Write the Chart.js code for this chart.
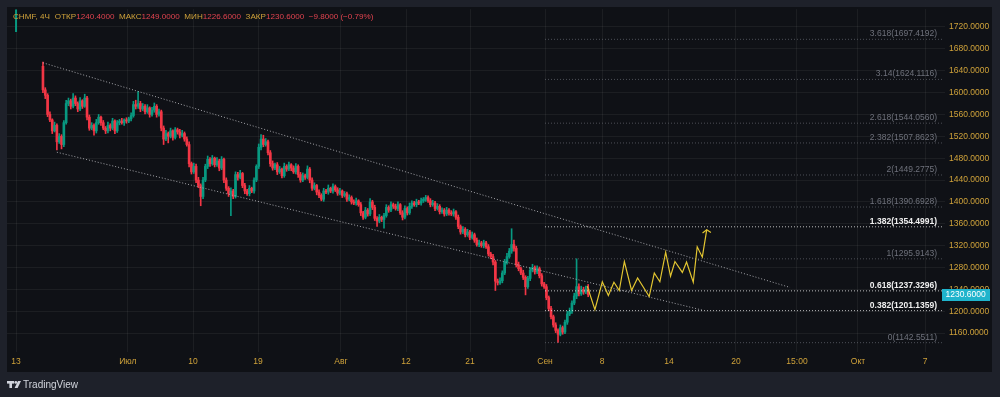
<!DOCTYPE html>
<html>
<head>
<meta charset="utf-8">
<script src="https://cdn.jsdelivr.net/npm/chart.js@4.4.1/dist/chart.umd.min.js"></script>
<style>
html, body { margin: 0; padding: 0; background: #1e212a; }
canvas { display: block; }
</style>
</head>
<body>
<canvas id="chart" width="1000" height="397"></canvas>
<script>
// CHMF 4h candles (bar index 0 = first candle)
const opens = [
  1648,1605,1595,1560,1550,1530,1540,1510,1520,1505,
  1545,1580,1585,1575,1590,1580,1570,1585,1575,1590,
  1555,1535,1540,1530,1545,1555,1545,1535,1530,1540,
  1535,1548,1530,1545,1548,1545,1550,1548,1552,1558,
  1578,1575,1580,1570,1575,1565,1572,1560,1568,1575,
  1560,1565,1535,1515,1525,1520,1530,1518,1532,1528,
  1522,1525,1515,1505,1470,1455,1465,1440,1430,1410,
  1440,1465,1478,1470,1480,1468,1475,1462,1478,1440,
  1425,1415,1420,1410,1450,1445,1452,1430,1420,1415,
  1425,1420,1440,1465,1500,1515,1505,1510,1490,1470,
  1462,1468,1455,1460,1448,1465,1460,1468,1462,1455,
  1465,1450,1440,1448,1445,1460,1440,1425,1430,1418,
  1412,1405,1420,1418,1425,1420,1428,1422,1416,1420,
  1412,1415,1405,1408,1400,1398,1402,1395,1380,1372,
  1385,1378,1400,1390,1370,1365,1372,1368,1375,1390,
  1385,1395,1392,1388,1395,1380,1372,1388,1380,1392,
  1398,1395,1400,1398,1402,1405,1408,1402,1395,1398,
  1388,1392,1382,1385,1378,1385,1380,1378,1382,1372,
  1355,1345,1350,1340,1345,1335,1340,1330,1322,1325,
  1320,1325,1318,1305,1300,1290,1255,1252,1256,1270,
  1290,1300,1310,1322,1315,1285,1278,1270,1262,1245,
  1260,1275,1280,1272,1278,1265,1250,1245,1225,1205,
  1190,1175,1165,1158,1170,1162,1180,1195,1200,1215,
  1228,1245,1232,1240,1235,1240.4
];
const highs = [
  1656,1609,1598,1565,1552,1546,1543,1525,1523,1549,
  1586,1590,1588,1598,1594,1583,1591,1587,1597,1593,
  1559,1545,1543,1551,1560,1557,1549,1538,1546,1543,
  1553,1550,1549,1551,1553,1552,1554,1555,1563,1584,
  1586,1602,1584,1580,1578,1578,1574,1573,1581,1578,
  1570,1568,1539,1531,1528,1535,1532,1536,1535,1533,
  1531,1528,1519,1510,1473,1471,1469,1445,1433,1445,
  1469,1484,1481,1485,1482,1481,1478,1483,1480,1444,
  1428,1426,1423,1455,1454,1458,1454,1434,1423,1430,
  1427,1444,1468,1506,1523,1522,1516,1513,1494,1475,
  1471,1472,1465,1462,1471,1468,1473,1470,1466,1470,
  1468,1454,1453,1451,1466,1463,1444,1435,1432,1422,
  1415,1425,1423,1431,1427,1433,1431,1426,1425,1422,
  1419,1418,1413,1411,1404,1407,1404,1399,1383,1390,
  1388,1406,1403,1394,1373,1377,1374,1379,1395,1393,
  1400,1398,1396,1400,1397,1384,1393,1391,1398,1402,
  1401,1405,1403,1407,1408,1412,1411,1406,1403,1401,
  1397,1395,1389,1388,1390,1388,1384,1387,1384,1376,
  1358,1355,1353,1350,1348,1345,1343,1334,1330,1328,
  1330,1328,1322,1308,1304,1293,1259,1261,1274,1295,
  1306,1315,1351,1330,1319,1290,1281,1275,1265,1264,
  1280,1286,1283,1283,1281,1269,1253,1249,1228,1209,
  1193,1179,1168,1175,1173,1184,1200,1206,1219,1233,
  1296,1250,1246,1244,1246,1249
];
const lows = [
  1600,1589,1556,1547,1525,1528,1495,1507,1497,1501,
  1542,1576,1570,1572,1576,1565,1567,1571,1573,1550,
  1531,1532,1522,1526,1542,1540,1532,1525,1526,1530,
  1532,1525,1527,1541,1542,1540,1544,1545,1548,1555,
  1570,1571,1565,1567,1561,1562,1555,1557,1564,1555,
  1557,1530,1505,1512,1508,1517,1513,1515,1524,1517,
  1519,1511,1502,1464,1451,1452,1435,1426,1393,1406,
  1437,1461,1465,1467,1464,1465,1457,1459,1435,1421,
  1410,1375,1406,1407,1440,1442,1426,1415,1412,1411,
  1417,1416,1437,1461,1495,1501,1502,1486,1465,1458,
  1459,1450,1452,1444,1445,1456,1457,1457,1452,1451,
  1445,1436,1437,1441,1442,1435,1421,1422,1413,1408,
  1402,1401,1415,1414,1417,1416,1419,1412,1413,1408,
  1409,1401,1402,1396,1395,1394,1392,1375,1368,1369,
  1374,1375,1386,1366,1355,1362,1364,1352,1372,1381,
  1382,1388,1385,1384,1377,1367,1369,1376,1377,1388,
  1392,1391,1395,1394,1399,1401,1399,1391,1392,1384,
  1385,1378,1379,1374,1375,1376,1375,1374,1368,1351,
  1341,1342,1336,1337,1331,1332,1326,1319,1318,1317,
  1316,1315,1301,1296,1285,1238,1248,1249,1252,1267,
  1286,1297,1306,1310,1281,1274,1267,1258,1230,1242,
  1256,1272,1268,1269,1261,1246,1242,1221,1201,1186,
  1171,1161,1143,1155,1158,1159,1176,1192,1196,1212,
  1223,1228,1229,1231,1232,1226.6
];
const closes = [
  1605,1595,1560,1550,1530,1540,1510,1520,1505,1545,
  1580,1585,1575,1590,1580,1570,1585,1575,1590,1555,
  1535,1540,1530,1545,1555,1545,1535,1530,1540,1535,
  1548,1530,1545,1548,1545,1550,1548,1552,1558,1578,
  1575,1580,1570,1575,1565,1572,1560,1568,1575,1560,
  1565,1535,1515,1525,1520,1530,1518,1532,1528,1522,
  1525,1515,1505,1470,1455,1465,1440,1430,1410,1440,
  1465,1478,1470,1480,1468,1475,1462,1478,1440,1425,
  1415,1420,1410,1450,1445,1452,1430,1420,1415,1425,
  1420,1440,1465,1500,1515,1505,1510,1490,1470,1462,
  1468,1455,1460,1448,1465,1460,1468,1462,1455,1465,
  1450,1440,1448,1445,1460,1440,1425,1430,1418,1412,
  1405,1420,1418,1425,1420,1428,1422,1416,1420,1412,
  1415,1405,1408,1400,1398,1402,1395,1380,1372,1385,
  1378,1400,1390,1370,1365,1372,1368,1375,1390,1385,
  1395,1392,1388,1395,1380,1372,1388,1380,1392,1398,
  1395,1400,1398,1402,1405,1408,1402,1395,1398,1388,
  1392,1382,1385,1378,1385,1380,1378,1382,1372,1355,
  1345,1350,1340,1345,1335,1340,1330,1322,1325,1320,
  1325,1318,1305,1300,1290,1255,1252,1256,1270,1290,
  1300,1310,1322,1315,1285,1278,1270,1262,1245,1260,
  1275,1280,1272,1278,1265,1250,1245,1225,1205,1190,
  1175,1165,1158,1170,1162,1180,1195,1200,1215,1228,
  1245,1232,1240,1235,1240.4,1230.6
];

// time axis ticks (bar index position) and labels
const xTickPos = [-11.6, 36.6, 64.7, 92.7, 128.4, 156.5, 184.1, 216.4, 241.0, 269.8, 298.7, 325.0, 351.3, 380.2];
const xTickLabels = ['13', 'Июл', '10', '19', 'Авг', '12', '21', 'Сен', '8', '14', '20', '15:00', 'Окт', '7'];
const yTicks = [1160, 1200, 1240, 1280, 1320, 1360, 1400, 1440, 1480, 1520, 1560, 1600, 1640, 1680, 1720];

// fibonacci extension levels
const fibRatios = ['0', '0.382', '0.618', '1', '1.382', '1.618', '2', '2.382', '2.618', '3.14', '3.618'];
const fibPrices = [1142.5511, 1201.1359, 1237.3296, 1295.9143, 1354.4991, 1390.6928, 1449.2775, 1507.8623, 1544.0560, 1624.1116, 1697.4192];
const fibBright = [false, true, true, false, true, false, false, false, false, false, false];
const fibFrom = 216.4, fibTo = 387.5;

// channel lines (bar index, price)
const upperChannelX = [0, 322];
const upperChannelY = [1654.5, 1243.6];
const lowerChannelX = [6, 284.5];
const lowerChannelY = [1490.9, 1201.8];

// projected path (yellow)
const pathX = [234.6, 237.9, 241.1, 243.7, 246.1, 248.4, 250.6, 253.7, 256.3, 261.3, 263.5, 265.9, 268.4, 270.5, 272.4, 275.6, 277.4, 280.3, 282.0, 284.2, 286.1];
const pathY = [1246, 1203, 1254, 1229, 1253, 1238, 1291, 1238, 1261, 1227, 1270, 1254, 1308, 1264, 1291, 1271, 1290, 1253, 1318, 1299, 1349];
const arrowX = [284.3, 286.1, 287.9];
const arrowY = [1343, 1349, 1344];

const upColor = '#089981';
const downColor = '#f23645';
const axisColor = '#cfa23a';
const gridColor = 'rgba(242,242,242,0.06)';
const fontFamily = "'Liberation Sans', Arial, sans-serif";

function candleColor(ctx) {
    var i = ctx.dataIndex;
    return closes[i] >= opens[i] ? upColor : downColor;
}

function zipXY(xs, ys) {
    return xs.map((x, i) => ({ x: x, y: ys[i] }));
}

function lineSet(points, color, dash, width) {
    return {
        type: 'line',
        data: points,
        borderColor: color,
        borderWidth: width || 1,
        borderDash: dash || [],
        pointRadius: 0,
        fill: false,
        tension: 0
    };
}

var datasets = [];
datasets.push(lineSet(zipXY(pathX, pathY), '#e3c631', [], 1.2));
datasets.push(lineSet(zipXY(arrowX, arrowY), '#e3c631', [], 1.2));
datasets.push(lineSet(zipXY(upperChannelX, upperChannelY), 'rgba(200,200,205,0.8)', [1, 2], 1));
datasets.push(lineSet(zipXY(lowerChannelX, lowerChannelY), 'rgba(200,200,205,0.8)', [1, 2], 1));
fibPrices.forEach(function(p, i) {
    var col = fibBright[i] ? 'rgba(235,235,235,0.8)' : 'rgba(120,123,134,0.6)';
    datasets.push(lineSet([{ x: fibFrom, y: p }, { x: fibTo, y: p }], col, [1, 2], 1));
});
// small vertical marker at the left edge
datasets.push(lineSet([{ x: -11.6, y: 1752 }, { x: -11.6, y: 1711 }], upColor, [], 2));

datasets.push({
    type: 'bar',
    data: opens.map((o, i) => ({ x: i, y: [o, closes[i]] })),
    backgroundColor: candleColor,
    borderWidth: 0,
    barThickness: 2,
    minBarLength: 1,
    grouped: false
});
datasets.push({
    type: 'bar',
    data: lows.map((l, i) => ({ x: i, y: [l, highs[i]] })),
    backgroundColor: candleColor,
    borderWidth: 0,
    barThickness: 1,
    grouped: false
});

const decorPlugin = {
    id: 'decor',
    beforeDraw(chart) {
        var c = chart.ctx;
        c.save();
        c.fillStyle = '#1e212a';
        c.fillRect(0, 0, chart.width, chart.height);
        c.fillStyle = '#0f1116';
        c.fillRect(7, 7, 985, 365);
        c.restore();
    },
    afterDraw(chart) {
        var c = chart.ctx;
        var xs = chart.scales.x, ys = chart.scales.y;
        c.save();

        // fib labels
        fibPrices.forEach(function(p, i) {
            var y = ys.getPixelForValue(p);
            c.font = (fibBright[i] ? 'bold ' : '') + '8.5px ' + fontFamily;
            c.fillStyle = fibBright[i] ? '#f0f0f0' : '#6f727c';
            c.textAlign = 'right';
            c.textBaseline = 'alphabetic';
            c.fillText(fibRatios[i] + '(' + p.toFixed(4) + ')', xs.getPixelForValue(fibTo) - 5, y - 3);
        });

        // last price tag
        var last = closes[closes.length - 1];
        var ly = ys.getPixelForValue(last);
        c.fillStyle = '#1fb4cc';
        c.fillRect(chart.chartArea.right - 3, Math.round(ly) - 6, 48, 12);
        c.fillStyle = '#ffffff';
        c.font = '8.5px ' + fontFamily;
        c.textAlign = 'left';
        c.textBaseline = 'middle';
        c.fillText(last.toFixed(4), chart.chartArea.right + 0.5, Math.round(ly));

        // header
        var n = closes.length - 1;
        var chg = closes[n] - closes[n - 1];
        var pct = chg / closes[n - 1] * 100;
        var parts = [
            ['CHMF, 4Ч', axisColor, 5],
            ['ОТКР', axisColor, 0], [opens[n].toFixed(4), '#e0434f', 4.5],
            ['МАКС', axisColor, 0], [highs[n].toFixed(4), '#e0434f', 4.5],
            ['МИН', axisColor, 0], [lows[n].toFixed(4), '#e0434f', 4.5],
            ['ЗАКР', axisColor, 0], [closes[n].toFixed(4), '#e0434f', 4.5],
            [(chg < 0 ? '−' : '+') + Math.abs(chg).toFixed(4) + ' (' + (pct < 0 ? '−' : '+') + Math.abs(pct).toFixed(2) + '%)', '#e0434f', 0]
        ];
        c.font = '8.1px ' + fontFamily;
        c.textAlign = 'left';
        c.textBaseline = 'middle';
        var hx = 13;
        parts.forEach(function(p) {
            c.fillStyle = p[1];
            c.fillText(p[0], hx, 17);
            hx += c.measureText(p[0]).width + p[2];
        });

        // TradingView logo
        c.fillStyle = '#d1d4dc';
        c.fillRect(7, 381, 7, 2.6);
        c.fillRect(9.4, 381, 2.6, 7);
        c.beginPath();
        c.arc(15.8, 382.4, 1.4, 0, Math.PI * 2);
        c.fill();
        c.beginPath();
        c.moveTo(18, 381);
        c.lineTo(21, 381);
        c.lineTo(17.6, 388);
        c.lineTo(14.6, 388);
        c.closePath();
        c.fill();
        c.font = '10px ' + fontFamily;
        c.textBaseline = 'middle';
        c.fillText('TradingView', 23, 385);

        c.restore();
    }
};

var ctx = document.getElementById('chart').getContext('2d');
var chmfChart = new Chart(ctx, {
    type: 'bar',
    data: { datasets: datasets },
    options: {
        responsive: false,
        animation: false,
        events: [],
        layout: { padding: { left: 7, top: 7, right: 8, bottom: 25 } },
        plugins: { legend: { display: false }, tooltip: { enabled: false } },
        scales: {
            x: {
                type: 'linear',
                min: -15.5,
                max: 388.8,
                offset: false,
                grid: { color: gridColor, drawTicks: false, offset: false },
                border: { display: false },
                afterBuildTicks: function(s) { s.ticks = xTickPos.map(v => ({ value: v })); },
                afterFit: function(s) { s.height = 20; },
                ticks: {
                    autoSkip: false,
                    maxRotation: 0,
                    padding: 5,
                    color: axisColor,
                    font: { family: fontFamily, size: 8.5 },
                    callback: function(v, i) { return xTickLabels[i]; }
                }
            },
            y: {
                type: 'linear',
                position: 'right',
                min: 1125.5,
                max: 1752.7,
                beginAtZero: false,
                grid: { color: gridColor, drawTicks: false },
                border: { display: false },
                afterBuildTicks: function(s) { s.ticks = yTicks.map(v => ({ value: v })); },
                afterFit: function(s) { s.width = 47; },
                ticks: {
                    padding: 4,
                    color: axisColor,
                    font: { family: fontFamily, size: 8.5 },
                    callback: function(v) { return v.toFixed(4); }
                }
            }
        }
    },
    plugins: [decorPlugin]
});
</script>
</body>
</html>
